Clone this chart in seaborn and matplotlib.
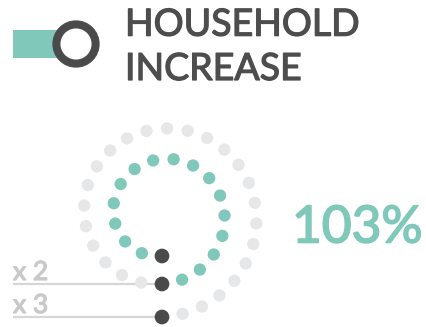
import numpy as np
import pandas as pd
import matplotlib
matplotlib.use("Agg")
import matplotlib.pyplot as plt
from matplotlib.patches import Rectangle, Circle
import matplotlib.patheffects as pe
import seaborn as sns

# ---- data ----
title_lines = ["HOUSEHOLD", "INCREASE"]
multiplier_labels = ["x 2", "x 3"]
increase_pct = 103
# dots on each turn of the spiral (between the dark markers)
dots_per_turn = [17, 26]
turn_kind = ["increase", "future"]

# ---- style ----
TEAL = "#7fc8ba"
LIGHT = "#e6e7e8"
DARK = "#4a4a4a"
TEXT = "#4d4d4d"
LABEL = "#c9c9c9"
RULE = "#d6d6d6"

sns.set_theme(style="white")
plt.rcParams["font.family"] = ["Lato", "DejaVu Sans"]

W, H = 426, 327
fig = plt.figure(figsize=(W / 100, H / 100), dpi=100)
ax = fig.add_axes([0, 0, 1, 1])


def medium(color, w=0.7):
    # thicken the regular cut a little for a medium-weight look
    return [pe.withStroke(linewidth=w, foreground=color)]


# spiral geometry (pixel space, y pointing down)
cx, cy = 162.0, 214.5
turn_radii = [41.5, 69.5, 102.5]


def spiral_turn(r_start, r_end, n):
    th = np.linspace(0, 2 * np.pi, 4000)
    r = r_start + (r_end - r_start) * th / (2 * np.pi)
    xs = cx - r * np.sin(th)
    ys = cy + r * np.cos(th)
    seg = np.hypot(np.diff(xs), np.diff(ys))
    s = np.concatenate([[0], np.cumsum(seg)])
    targets = np.linspace(0, s[-1], n + 1)[1:-1]
    return np.interp(targets, s, xs), np.interp(targets, s, ys)


rows = []
for i, (n, kind) in enumerate(zip(dots_per_turn, turn_kind)):
    xs, ys = spiral_turn(turn_radii[i], turn_radii[i + 1], n)
    rows += [{"x": x, "y": y, "kind": kind} for x, y in zip(xs, ys)]
for r in turn_radii:
    rows.append({"x": cx, "y": cy + r, "kind": "marker"})
dots = pd.DataFrame(rows)

# guide rules for the multiplier labels
for lab, r in zip(multiplier_labels, turn_radii[1:]):
    ax.plot([13, cx], [cy + r, cy + r], color=RULE, lw=1.6, zorder=1,
            solid_capstyle="butt")
    ax.text(13, cy + r - 4, lab, color=LABEL, fontsize=19,
            ha="left", va="baseline", path_effects=medium(LABEL, 0.9))

sns.scatterplot(data=dots, x="x", y="y", hue="kind", size="kind",
                palette={"increase": TEAL, "future": LIGHT, "marker": DARK},
                sizes={"increase": 78, "future": 78, "marker": 112},
                linewidth=0, legend=False, ax=ax, zorder=3)

# percentage
ax.text(292, 242.5, f"{increase_pct}%", color=TEAL, fontsize=37,
        ha="left", va="baseline", path_effects=medium(TEAL, 1.2))

# header icon
ax.add_patch(Rectangle((12.7, 30), 46, 27.7, color=TEAL, lw=0, zorder=2))
ax.add_patch(Circle((76, 44), 19.6, facecolor="white", edgecolor=DARK,
                    lw=5.8, zorder=3))

# header title
for line, base in zip(title_lines, [35.7, 80]):
    ax.text(125, base, line, color=TEXT, fontsize=27,
            ha="left", va="baseline", path_effects=medium(TEXT, 0.9))

ax.set_xlim(0, W)
ax.set_ylim(H, 0)
ax.set_aspect("equal")
ax.axis("off")
fig.savefig("out.png", dpi=100)
